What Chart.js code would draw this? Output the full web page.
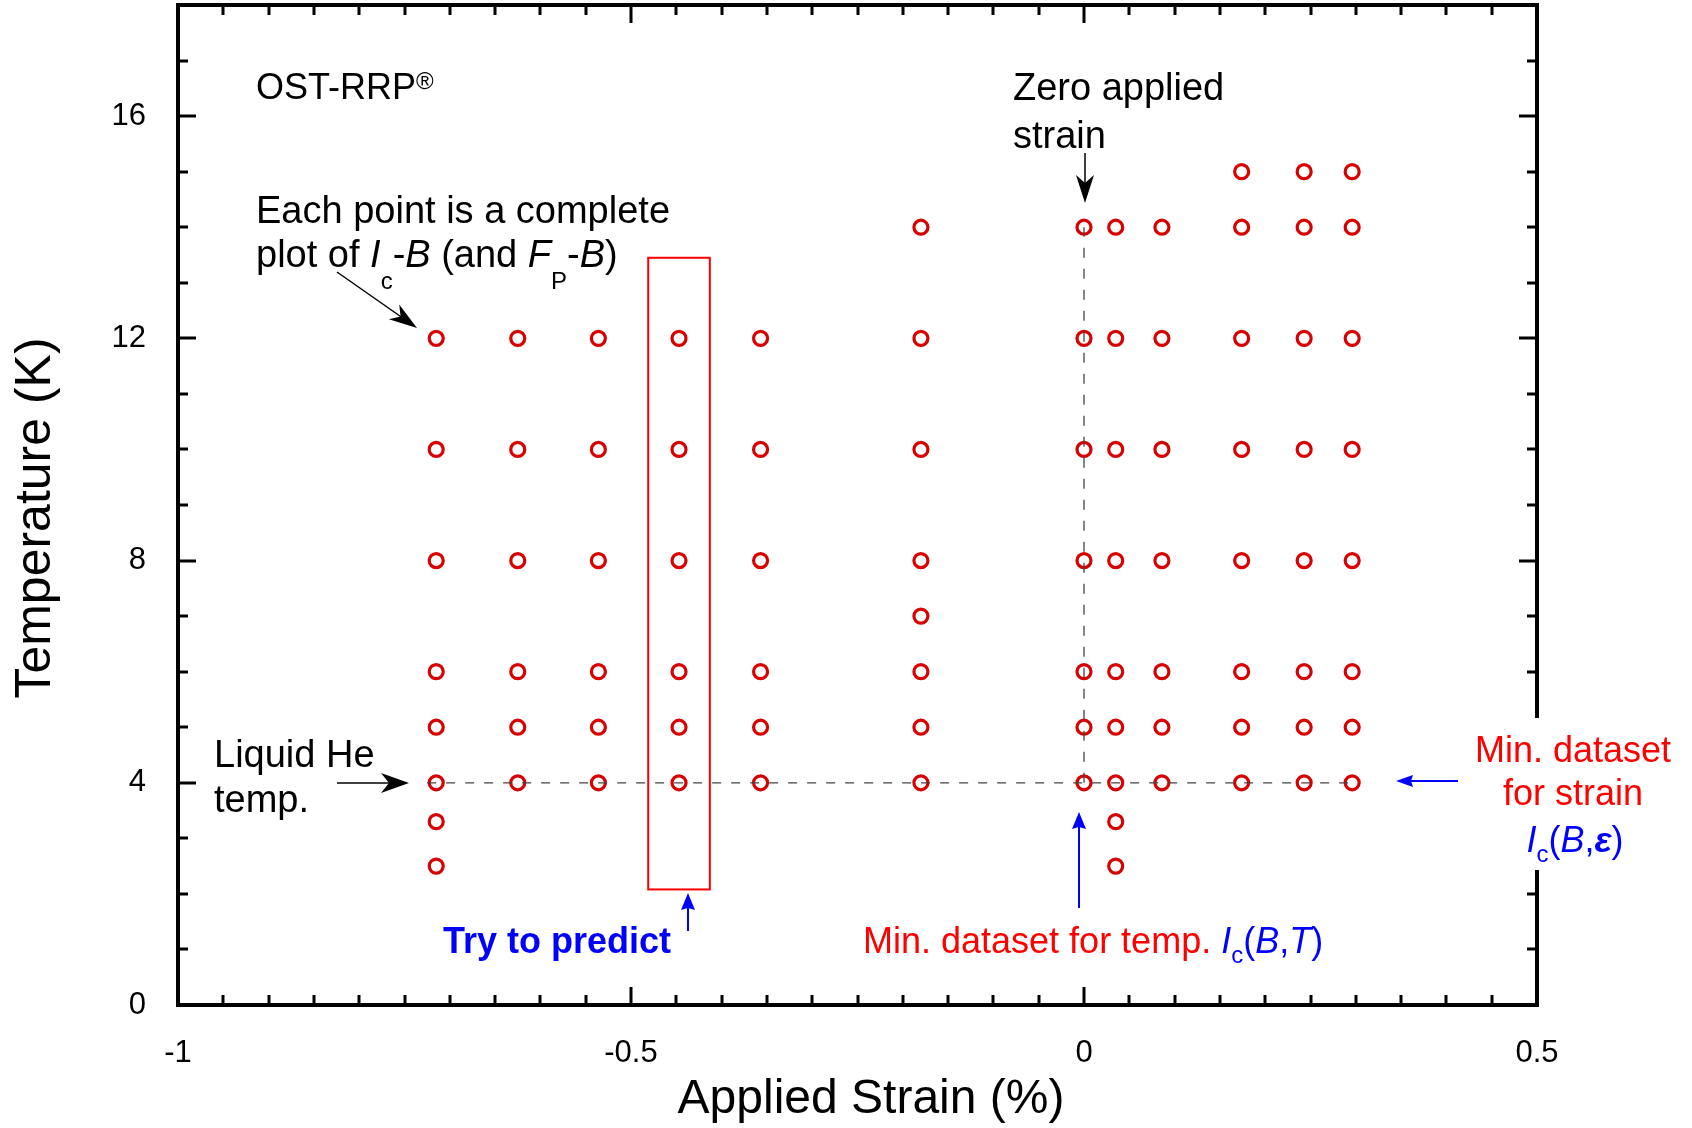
<!DOCTYPE html>
<html>
<head>
<meta charset="utf-8">
<title>Applied strain vs temperature</title>
<script src="https://cdn.jsdelivr.net/npm/chart.js@4.4.0/dist/chart.umd.min.js"></script>
<style>
  html, body { margin: 0; padding: 0; background: #fff; }
  #wrap { width: 1692px; height: 1128px; }
</style>
</head>
<body>
<div id="wrap"><canvas id="strainChart" width="1692" height="1128"></canvas></div>
<script>
// Measurement grid: applied strain (%) columns and the temperatures (K) measured at each
const strainColumns = [-0.715, -0.625, -0.536, -0.447, -0.357, -0.18, 0, 0.035, 0.086, 0.174, 0.243, 0.296];
const tempsAtStrain = [
    [12, 10, 8, 6, 5, 4, 3.3, 2.5],
    [12, 10, 8, 6, 5, 4],
    [12, 10, 8, 6, 5, 4],
    [12, 10, 8, 6, 5, 4],
    [12, 10, 8, 6, 5, 4],
    [14, 12, 10, 8, 7, 6, 5, 4],
    [14, 12, 10, 8, 6, 5, 4],
    [14, 12, 10, 8, 6, 5, 4, 3.3, 2.5],
    [14, 12, 10, 8, 6, 5, 4],
    [15, 14, 12, 10, 8, 6, 5, 4],
    [15, 14, 12, 10, 8, 6, 5, 4],
    [15, 14, 12, 10, 8, 6, 5, 4]
];

// Reference lines: liquid He temperature and zero applied strain
const heTemp = 4;
const heLineStrain = [-0.725, 0.30];
const zeroStrain = 0;
const zeroLineTemps = [4, 14];

// Column boxed for prediction (strain range, temperature range)
const predictStrain = [-0.481, -0.413];
const predictTemps = [2.08, 13.45];

const xTickLabels = [-1, -0.5, 0, 0.5];
const yTickLabels = [0, 4, 8, 12, 16];

const FONT = '"Liberation Sans", Arial, Helvetica, sans-serif';
const RED = '#ff0000';
const MARK_RED = '#d80000';
const BLUE = '#0000ff';

const points = [];
strainColumns.forEach((s, i) => {
    tempsAtStrain[i].forEach(t => points.push({ x: s, y: t }));
});

function font(size, style) {
    return (style || '') + ' ' + size + 'px ' + FONT;
}

// draws a line of mixed-style text pieces (italics, subscripts)
function drawRuns(ctx, x, y, runs, align) {
    let total = 0;
    runs.forEach(r => {
        ctx.font = font(r.size, r.style);
        r.w = ctx.measureText(r.t).width;
        total += r.w;
    });
    let cx = align === 'center' ? x - total / 2 : x;
    ctx.textAlign = 'left';
    ctx.textBaseline = 'alphabetic';
    runs.forEach(r => {
        ctx.font = font(r.size, r.style);
        ctx.fillStyle = r.color;
        ctx.fillText(r.t, cx, y + (r.dy || 0));
        cx += r.w;
    });
}

function arrow(ctx, x1, y1, x2, y2, color, lw, len, half, notch) {
    const a = Math.atan2(y2 - y1, x2 - x1);
    ctx.save();
    ctx.strokeStyle = color;
    ctx.fillStyle = color;
    ctx.lineWidth = lw;
    ctx.beginPath();
    ctx.moveTo(x1, y1);
    ctx.lineTo(x2 - Math.cos(a) * len * 0.7, y2 - Math.sin(a) * len * 0.7);
    ctx.stroke();
    ctx.translate(x2, y2);
    ctx.rotate(a);
    ctx.beginPath();
    ctx.moveTo(0, 0);
    ctx.lineTo(-len, -half);
    ctx.lineTo(-len + notch, 0);
    ctx.lineTo(-len, half);
    ctx.closePath();
    ctx.fill();
    ctx.restore();
}

// fixed axis box sizes; no extra room for edge labels
function fixBox(scale, key, size) {
    scale[key] = size;
    scale.paddingTop = 0;
    scale.paddingBottom = 0;
    scale.paddingLeft = 0;
    scale.paddingRight = 0;
}

const framePlugin = {
    id: 'frame',
    beforeDraw(chart) {
        const ctx = chart.ctx;
        ctx.save();
        ctx.fillStyle = '#fff';
        ctx.fillRect(0, 0, chart.width, chart.height);
        ctx.restore();
    },
    afterDatasetsDraw(chart) {
        const ctx = chart.ctx;
        const xs = chart.scales.x, ys = chart.scales.y;
        // boxed prediction column
        ctx.save();
        ctx.strokeStyle = RED;
        ctx.lineWidth = 2;
        const bx1 = xs.getPixelForValue(predictStrain[0]), bx2 = xs.getPixelForValue(predictStrain[1]);
        const by1 = ys.getPixelForValue(predictTemps[1]), by2 = ys.getPixelForValue(predictTemps[0]);
        ctx.strokeRect(bx1, by1, bx2 - bx1, by2 - by1);
        ctx.restore();
    },
    afterDraw(chart) {
        const ctx = chart.ctx;
        const xs = chart.scales.x, ys = chart.scales.y;
        const { left, right, top, bottom } = chart.chartArea;
        ctx.save();

        // inward ticks on all four sides
        ctx.strokeStyle = '#000';
        ctx.lineWidth = 3;
        ctx.lineCap = 'butt';
        for (let i = 1; i < 30; i++) {
            const v = -1 + i * 0.05;
            const px = Math.round(xs.getPixelForValue(v));
            const len = i % 10 === 0 ? 18 : 10;
            ctx.beginPath();
            ctx.moveTo(px, bottom); ctx.lineTo(px, bottom - len);
            ctx.moveTo(px, top); ctx.lineTo(px, top + len);
            ctx.stroke();
        }
        for (let t = 1; t < 18; t++) {
            const py = Math.round(ys.getPixelForValue(t));
            const len = t % 4 === 0 ? 18 : 10;
            ctx.beginPath();
            ctx.moveTo(left, py); ctx.lineTo(left + len, py);
            ctx.moveTo(right, py); ctx.lineTo(right - len, py);
            ctx.stroke();
        }
        ctx.lineWidth = 4;
        ctx.strokeRect(left, top, right - left, bottom - top);

        // axis titles
        ctx.fillStyle = '#000';
        ctx.textAlign = 'center';
        ctx.textBaseline = 'middle';
        ctx.font = font(48);
        ctx.fillText('Applied Strain (%)', 871, 1100);
        ctx.save();
        ctx.translate(36, 518);
        ctx.rotate(-Math.PI / 2);
        ctx.font = font(50);
        ctx.fillText('Temperature (K)', 0, 0);
        ctx.restore();

        const K = '#000';
        drawRuns(ctx, 256, 99, [
            { t: 'OST-RRP', size: 36, color: K },
            { t: '\u00AE', size: 24, color: K, dy: -10 }
        ]);
        drawRuns(ctx, 256, 223, [{ t: 'Each point is a complete', size: 38, color: K }]);
        drawRuns(ctx, 256, 267, [
            { t: 'plot of ', size: 38, color: K },
            { t: 'I', size: 38, style: 'italic', color: K },
            { t: 'c', size: 24, color: K, dy: 22 },
            { t: '-', size: 38, color: K },
            { t: 'B', size: 38, style: 'italic', color: K },
            { t: ' (and ', size: 38, color: K },
            { t: 'F', size: 38, style: 'italic', color: K },
            { t: 'P', size: 24, color: K, dy: 22 },
            { t: '-', size: 38, color: K },
            { t: 'B', size: 38, style: 'italic', color: K },
            { t: ')', size: 38, color: K }
        ]);
        arrow(ctx, 337, 272, 417, 328, K, 1.5, 28, 9, 8);

        drawRuns(ctx, 1013, 100, [{ t: 'Zero applied', size: 38, color: K }]);
        drawRuns(ctx, 1013, 148, [{ t: 'strain', size: 38, color: K }]);
        arrow(ctx, 1085, 153, 1085, 203, K, 1.5, 28, 9, 8);

        drawRuns(ctx, 214, 767, [{ t: 'Liquid He', size: 38, color: K }]);
        drawRuns(ctx, 214, 812, [{ t: 'temp.', size: 38, color: K }]);
        arrow(ctx, 337, 783, 409, 783, K, 1.5, 28, 10, 8);

        drawRuns(ctx, 443, 953, [{ t: 'Try to predict', size: 36, style: 'bold', color: BLUE }]);
        arrow(ctx, 688, 931, 688, 893, BLUE, 2, 17, 7, 2);

        drawRuns(ctx, 863, 953, [
            { t: 'Min. dataset for temp. ', size: 36, color: RED },
            { t: 'I', size: 36, style: 'italic', color: BLUE },
            { t: 'c', size: 24, color: BLUE, dy: 10 },
            { t: '(', size: 36, color: BLUE },
            { t: 'B', size: 36, style: 'italic', color: BLUE },
            { t: ',', size: 36, color: BLUE },
            { t: 'T', size: 36, style: 'italic', color: BLUE },
            { t: ')', size: 36, color: BLUE }
        ]);
        arrow(ctx, 1079, 908, 1079, 812, BLUE, 2, 17, 7, 2);

        // label block on the right sits on a white patch over the frame
        ctx.fillStyle = '#fff';
        ctx.fillRect(1466, 718, 226, 152);
        drawRuns(ctx, 1573, 762, [{ t: 'Min. dataset', size: 36, color: RED }], 'center');
        drawRuns(ctx, 1573, 805, [{ t: 'for strain', size: 36, color: RED }], 'center');
        drawRuns(ctx, 1575, 852, [
            { t: 'I', size: 36, style: 'italic', color: BLUE },
            { t: 'c', size: 24, color: BLUE, dy: 10 },
            { t: '(', size: 36, color: BLUE },
            { t: 'B', size: 36, style: 'italic', color: BLUE },
            { t: ',', size: 36, color: BLUE },
            { t: '\u03B5', size: 36, style: 'italic bold', color: BLUE },
            { t: ')', size: 36, color: BLUE }
        ], 'center');
        arrow(ctx, 1458, 781, 1396, 781, BLUE, 2, 17, 6, 2);

        ctx.restore();
    }
};

const ctx = document.getElementById('strainChart').getContext('2d');
new Chart(ctx, {
    type: 'scatter',
    data: {
        datasets: [
            {
                type: 'line',
                data: heLineStrain.map(s => ({ x: s, y: heTemp })),
                borderColor: '#444',
                borderWidth: 1.3,
                borderDash: [9, 10],
                pointRadius: 0,
                fill: false
            },
            {
                type: 'line',
                data: zeroLineTemps.map(t => ({ x: zeroStrain, y: t })),
                borderColor: '#444',
                borderWidth: 1.3,
                borderDash: [10, 11],
                pointRadius: 0,
                fill: false
            },
            {
                label: 'Ic-B measurements',
                data: points,
                pointStyle: 'circle',
                pointRadius: 7,
                pointBorderWidth: 3.2,
                borderColor: MARK_RED,
                backgroundColor: 'rgba(0,0,0,0)'
            }
        ]
    },
    options: {
        responsive: false,
        animation: false,
        devicePixelRatio: 1,
        layout: { autoPadding: false, padding: { left: 0, top: 5, right: 155, bottom: 0 } },
        plugins: {
            legend: { display: false },
            tooltip: { enabled: false }
        },
        scales: {
            x: {
                type: 'linear',
                min: -1,
                max: 0.5,
                afterBuildTicks: (scale) => { scale.ticks = xTickLabels.map(v => ({ value: v })); },
                afterFit: (scale) => fixBox(scale, 'height', 123),
                grid: { display: false, drawTicks: false },
                border: { display: false },
                ticks: {
                    padding: 30,
                    color: '#000',
                    font: { family: FONT, size: 31 },
                    maxRotation: 0,
                    callback: (v) => String(Number(v.toFixed(2)))
                }
            },
            y: {
                type: 'linear',
                min: 0,
                max: 18,
                afterBuildTicks: (scale) => { scale.ticks = yTickLabels.map(v => ({ value: v })); },
                afterFit: (scale) => fixBox(scale, 'width', 178),
                grid: { display: false, drawTicks: false },
                border: { display: false },
                ticks: {
                    padding: 32,
                    color: '#000',
                    font: { family: FONT, size: 31 },
                    callback: (v) => String(v)
                }
            }
        }
    },
    plugins: [framePlugin]
});
</script>
</body>
</html>
